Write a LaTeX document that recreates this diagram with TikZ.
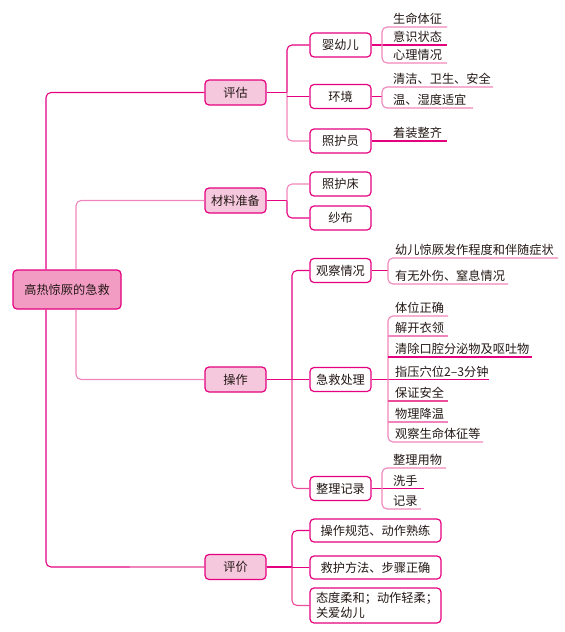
\documentclass[tikz,border=0pt]{standalone}
\usepackage{fontspec}
\newfontfamily\cjk{Noto Sans CJK SC}
\definecolor{mag}{HTML}{E4007F}
\definecolor{mid}{HTML}{EA4E9A}
\definecolor{lpk}{HTML}{EF85BA}
\definecolor{rootfill}{HTML}{F29CC4}
\definecolor{lvfill}{HTML}{F6C8DD}
\definecolor{txt}{HTML}{231815}
\begin{document}
\begin{tikzpicture}[x=1pt,y=-1pt,
  every node/.style={font=\cjk\fontsize{12.2}{15}\selectfont, text=txt},
  box/.style={draw=mag, line width=1.2pt, rounded corners=4pt, inner sep=0pt, fill=white,
    minimum width=61pt, minimum height=24pt},
  rootbox/.style={box, fill=rootfill, minimum width=108pt, minimum height=39pt},
  lvbox/.style={box, fill=lvfill, minimum height=25pt},
  wbox/.style={box, minimum width=131pt, minimum height=23pt},
  leaf/.style={anchor=base west, inner sep=0pt},
  dl/.style={draw=mag, line width=1.1pt, rounded corners=5pt},
  ml/.style={draw=mid, line width=1.1pt, rounded corners=5pt},
  ll/.style={draw=lpk, line width=1.1pt, rounded corners=5pt}]
\useasboundingbox (0,0) rectangle (565,632);

% column coordinates
\coordinate (xa) at (46,0);
\coordinate (xb) at (76,0);
\coordinate (ba) at (287,0);
\coordinate (bb) at (292,0);
\coordinate (ka) at (382,0);
\coordinate (kb) at (388,0);

% nodes
\node[rootbox] (root) at (67,289.5) {高热惊厥的急救};
\node[lvbox] (pg) at (235.5,92.5) {评估};
\node[lvbox] (cl) at (235.5,200.5) {材料准备};
\node[lvbox] (cz) at (235.5,379.5) {操作};
\node[lvbox] (pj) at (235.5,567) {评价};

\node[box] (yy) at (340.5,45) {婴幼儿};
\node[box] (hj) at (340.5,96.5) {环境};
\node[box] (zh) at (340.5,141) {照护员};
\node[box] (hc) at (340.5,184) {照护床};
\node[box] (sb) at (340.5,218) {纱布};
\node[box] (gc) at (340.5,270.5) {观察情况};
\node[box] (jj) at (340.5,379.5) {急救处理};
\node[box] (zl) at (340.5,488.5) {整理记录};
\node[wbox] (p1) at (375.5,530.5) {操作规范、动作熟练};
\node[wbox] (p2) at (375.5,567.5) {救护方法、步骤正确};
\node[wbox, minimum height=35pt, align=left, text width=119pt, inner xsep=6pt] (p3) at (375.5,605.5)
  {态度柔和；动作轻柔；\\关爱幼儿};

% root connectors
\draw[dl] (root.north -| xa) |- (pg.west);
\draw[dl] (root.south -| xa) |- (pj.west);
\coordinate (pjm) at (130,567);
\draw[draw=lpk, line width=1.1pt] (pjm) -- (pj.west);
\draw[ll] (root.north -| xb) |- (cl.west);
\draw[ll] (root.south -| xb) |- (cz.west);

% level 2 connectors
\draw[dl] (pg.east) -- (pg.east -| ba);
\draw[dl] (yy.west) -| (ba |- pg.east);
\draw[ll] (zh.west) -| (ba |- pg.east);
\draw[dl] (hj.west) -- (ba |- hj.west);

\draw[dl] (cl.east) -- (cl.east -| ba);
\draw[ll] (hc.west) -| (ba |- cl.east);
\draw[dl] (sb.west) -| (ba |- cl.east);

\draw[dl] (cz.east) -- (jj.west);
\draw[dl] (gc.west) -| (bb |- cz.east);
\draw[ml] (zl.west) -| (bb |- cz.east);

\draw[dl] (pj.east) -- (pj.east -| bb);
\draw[dl] (p1.west) -| (bb |- pj.east);
\draw[ml] (p3.west) -| (bb |- pj.east);
\draw[dl] (p2.west) -- (bb |- p2.west);

% leaves: 婴幼儿
\coordinate (y1) at (447,27);
\coordinate (y2) at (447,45);
\coordinate (y3) at (447,63);
\draw[dl] (yy.east) -- (y2);
\draw[ll] (y1) -| (ka |- y3) -- (y3);
\node[leaf] (ty1) at (393,23.5) {生命体征};
\node[leaf] (ty2) at (393,41.5) {意识状态};
\node[leaf] (ty3) at (393,59.5) {心理情况};

% 环境
\coordinate (h1) at (493,87);
\coordinate (h2) at (473,108);
\draw[dl] (hj.east) -- (ka |- hj.east);
\draw[ll] (h1) -| (ka |- h2) -- (h2);
\node[leaf] (th1) at (393,83.5) {清洁、卫生、安全};
\node[leaf] (th2) at (393,104.5) {温、湿度适宜};

% 照护员
\coordinate (z1) at (447,141);
\draw[dl] (zh.east) -- (z1);
\node[leaf] (tz1) at (393,137.5) {着装整齐};

% 观察情况
\coordinate (g1) at (558,258);
\coordinate (g2) at (508,284);
\draw[dl] (gc.east) -- (kb |- gc.east);
\draw[ll] (g1) -| (kb |- g2) -- (g2);
\node[leaf] (tg1) at (395,254.5) {幼儿惊厥发作程度和伴随症状};
\node[leaf] (tg2) at (395,280.5) {有无外伤、窒息情况};

% 急救处理
\coordinate (j1) at (448,316);
\coordinate (j2) at (448,336);
\coordinate (j3) at (532,357);
\coordinate (j4) at (489,379.5);
\coordinate (j5) at (448,401);
\coordinate (j6) at (448,422);
\coordinate (j7) at (483,442);
\draw[dl] (jj.east) -- (j4);
\draw[ll] (j1) -| (kb |- j7) -- (j7);
\draw[ll] (kb |- j2) -- (j2);
\draw[dl] (kb |- j3) -- (j3);
\draw[ml] (kb |- j5) -- (j5);
\draw[ll] (kb |- j6) -- (j6);
\node[leaf] (tj1) at (395,312.5) {体位正确};
\node[leaf] (tj2) at (395,332.5) {解开衣领};
\node[leaf] (tj3) at (395,353.5) {清除口腔分泌物及呕吐物};
\node[leaf] (tj4) at (395,376) {指压穴位2–3分钟};
\node[leaf] (tj5) at (395,397.5) {保证安全};
\node[leaf] (tj6) at (395,418.5) {物理降温};
\node[leaf] (tj7) at (395,438.5) {观察生命体征等};

% 整理记录
\coordinate (r1) at (446,468);
\coordinate (r2) at (424,488.5);
\coordinate (r3) at (421,509);
\draw[dl] (zl.east) -- (r2);
\draw[ll] (r1) -| (ka |- r3) -- (r3);
\node[leaf] (tr1) at (393,464.5) {整理用物};
\node[leaf] (tr2) at (393,485) {洗手};
\node[leaf] (tr3) at (393,505.5) {记录};
\end{tikzpicture}
\end{document}
